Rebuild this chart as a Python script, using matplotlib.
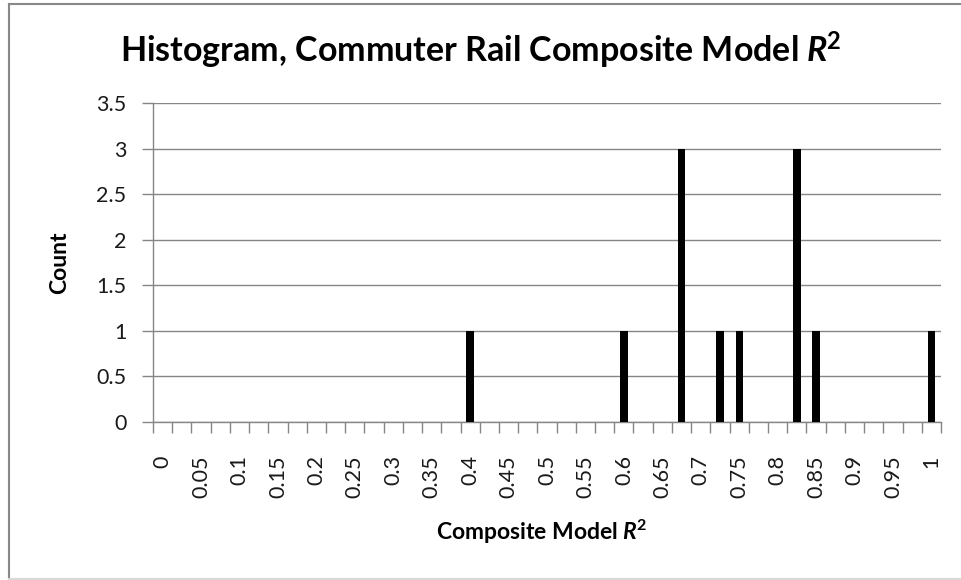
import numpy as np
import matplotlib
matplotlib.use("Agg")
import matplotlib.pyplot as plt
from matplotlib.lines import Line2D

# Histogram bins (R^2 categories) and counts
bins = [0.0, 0.025, 0.05, 0.075, 0.1, 0.125, 0.15, 0.175, 0.2, 0.225,
        0.25, 0.275, 0.3, 0.325, 0.35, 0.375, 0.4, 0.425, 0.45, 0.475,
        0.5, 0.525, 0.55, 0.575, 0.6, 0.625, 0.65, 0.675, 0.7, 0.725,
        0.75, 0.775, 0.8, 0.825, 0.85, 0.875, 0.9, 0.925, 0.95, 0.975, 1.0]
counts = [0, 0, 0, 0, 0, 0, 0, 0, 0, 0,
          0, 0, 0, 0, 0, 0, 1, 0, 0, 0,
          0, 0, 0, 0, 1, 0, 0, 3, 0, 1,
          1, 0, 0, 3, 1, 0, 0, 0, 0, 0, 1]
y_ticks = [0, 0.5, 1, 1.5, 2, 2.5, 3, 3.5]

plt.rcParams['font.family'] = ['Lato', 'DejaVu Sans']
plt.rcParams['mathtext.fontset'] = 'custom'
plt.rcParams['mathtext.rm'] = 'Lato:bold'
plt.rcParams['mathtext.it'] = 'Lato:italic:bold'
plt.rcParams['mathtext.bf'] = 'Lato:bold'

W, H = 961, 580
fig = plt.figure(figsize=(W / 100, H / 100), dpi=100)

# plot area in pixel coords
left, right, top, bottom = 153, 941, 103, 422
ax = fig.add_axes([left / W, 1 - bottom / H, (right - left) / W, (bottom - top) / H])

grid_col = '#868686'
x = np.arange(len(bins))
ax.bar(x, counts, width=0.38, color='black', zorder=3)

ax.set_xlim(-0.5, len(bins) - 0.5)
ax.set_ylim(0, 3.5)
ax.set_yticks(y_ticks)
ax.set_yticklabels([f'{v:g}' for v in y_ticks], fontsize=15.5, color='#1a1a1a')
ax.tick_params(axis='y', length=8, width=1, color=grid_col, pad=11)
ax.yaxis.grid(True, color=grid_col, linewidth=1)
ax.set_axisbelow(True)

# labels every second category, ticks between categories
ax.set_xticks(x[::2])
ax.set_xticklabels([f'{b:g}' for b in bins[::2]], rotation=90, fontsize=15.5,
                   color='#1a1a1a', va='top', ha='center')
ax.tick_params(axis='x', which='major', length=0, pad=24)
ax.set_xticks(np.arange(-0.5, len(bins), 1), minor=True)
ax.tick_params(axis='x', which='minor', length=8, width=1, color=grid_col)

for s in ['top', 'right']:
    ax.spines[s].set_visible(False)
for s in ['left', 'bottom']:
    ax.spines[s].set_color(grid_col)
    ax.spines[s].set_linewidth(1)

# titles
fig.text(481 / W, 1 - 50 / H, r'Histogram, Commuter Rail Composite Model $R^{\!2}$',
         fontsize=24.5, fontweight='bold', ha='center', va='center')
fig.text(60 / W, 1 - 263 / H, 'Count', fontsize=16.5, fontweight='bold',
         rotation=90, ha='center', va='center')
fig.text(541 / W, 1 - 532 / H, r'Composite Model $R^{\!2}$', fontsize=16.5,
         fontweight='bold', ha='center', va='center')

# chart border
fig.add_artist(Line2D([9 / W, 9 / W], [1 - 579 / H, 1 - 4 / H], color='#888888',
                      linewidth=1.5, transform=fig.transFigure))
fig.add_artist(Line2D([9 / W, 1], [1 - 4 / H, 1 - 4 / H], color='#888888',
                      linewidth=1.5, transform=fig.transFigure))
fig.add_artist(Line2D([9 / W, 1], [1 - 579 / H, 1 - 579 / H], color='#d9d9d9',
                      linewidth=1.5, transform=fig.transFigure))

fig.savefig('out.png', dpi=100)
